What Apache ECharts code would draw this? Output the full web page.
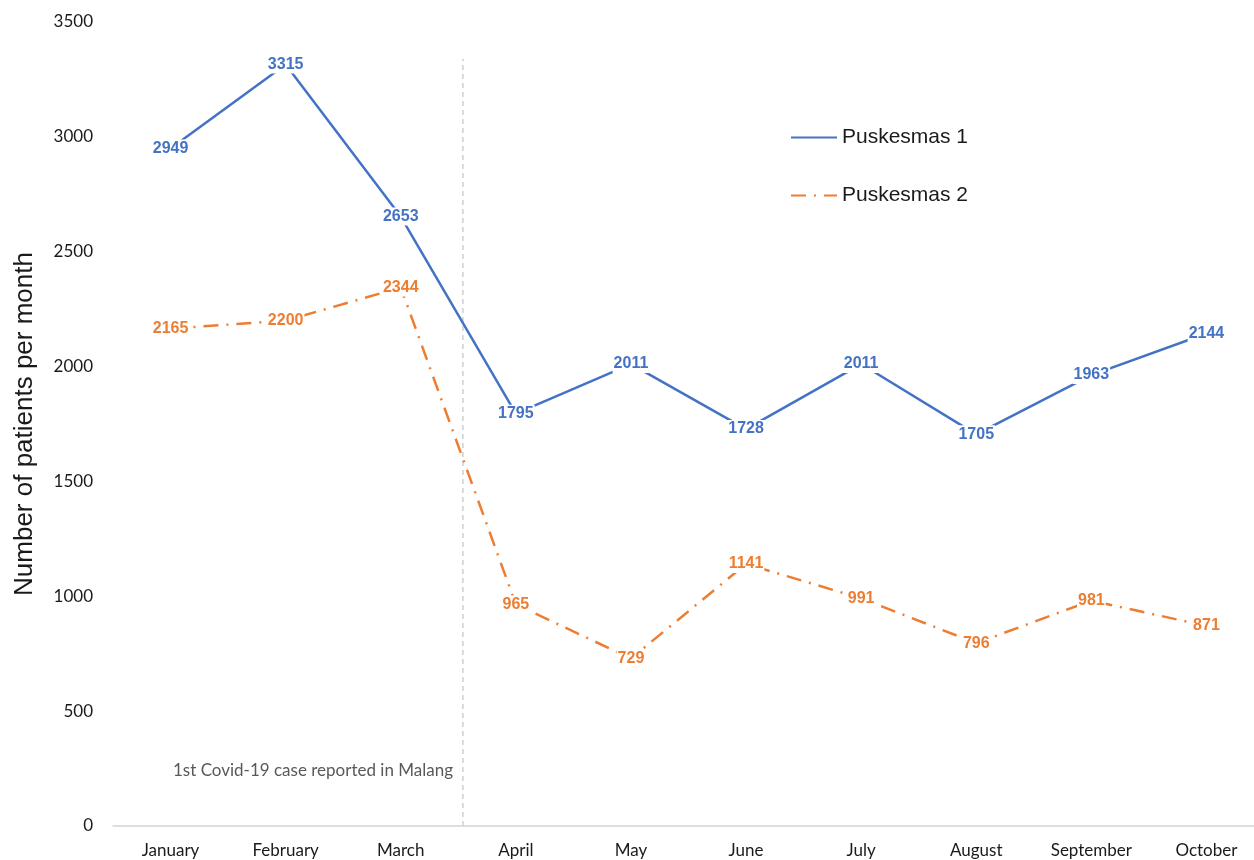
<!DOCTYPE html>
<html>
<head>
<meta charset="utf-8">
<script src="https://cdn.jsdelivr.net/npm/echarts@6/dist/echarts.min.js"></script>
<style>
html,body{margin:0;padding:0;background:#fff;}
#chart{width:1254px;height:860px;}
</style>
</head>
<body>
<div id="chart"></div>
<script>
const months = ['January','February','March','April','May','June','July','August','September','October'];
const puskesmas1 = [2949, 3315, 2653, 1795, 2011, 1728, 2011, 1705, 1963, 2144];
const puskesmas2 = [2165, 2200, 2344, 965, 729, 1141, 991, 796, 981, 871];
const covidMarkerX = 2.54;
const covidMarkerTop = 3340;
const covidNote = '1st Covid-19 case reported in Malang';

const chart = echarts.init(document.getElementById('chart'));
const labelBase = {
  show: true,
  position: 'inside',
  fontFamily: 'Liberation Sans, Arial, sans-serif',
  fontWeight: 'bold',
  fontSize: 16,
  backgroundColor: '#fff',
  padding: [1, 1]
};
chart.setOption({
  animation: false,
  backgroundColor: '#fff',
  grid: { left: 113, top: 22, width: 1151, height: 804, containLabel: false, outerBoundsMode: 'none' },
  legend: {
    orient: 'vertical',
    left: 785,
    top: 122,
    itemWidth: 46,
    itemHeight: 14,
    itemGap: 37,
    itemStyle: { opacity: 0 },
    textStyle: { fontFamily: 'Liberation Sans, Arial, sans-serif', fontSize: 21, color: '#1a1a1a' },
    data: ['Puskesmas 1', 'Puskesmas 2']
  },
  xAxis: [{
    type: 'category',
    data: months,
    boundaryGap: true,
    axisLine: { lineStyle: { color: '#d4d4d4', width: 1.5 } },
    axisTick: { show: false },
    axisLabel: { fontFamily: 'Lato, sans-serif', fontSize: 17, color: '#1a1a1a', margin: 16 }
  }, {
    type: 'value',
    min: -0.5,
    max: 9.5,
    show: false
  }],
  yAxis: {
    type: 'value',
    min: 0,
    max: 3500,
    interval: 500,
    name: 'Number of patients per month',
    nameLocation: 'middle',
    nameGap: 75,
    nameTextStyle: { fontFamily: 'Liberation Sans, Arial, sans-serif', fontSize: 26, color: '#1a1a1a' },
    axisLine: { show: false },
    axisTick: { show: false },
    splitLine: { show: false },
    axisLabel: { fontFamily: 'Lato, sans-serif', fontSize: 17, color: '#1a1a1a', margin: 20, formatter: v => String(v) }
  },
  series: [{
    name: 'covid-marker',
    type: 'line',
    xAxisIndex: 1,
    data: [[covidMarkerX, 0], [covidMarkerX, covidMarkerTop]],
    symbol: 'none',
    silent: true,
    lineStyle: { color: '#cfcfcf', width: 1.5, type: [5, 4] },
    z: 1
  }, {
    name: 'Puskesmas 1',
    type: 'line',
    data: puskesmas1,
    symbol: 'circle',
    symbolSize: 1,
    itemStyle: { color: '#4472C4' },
    lineStyle: { color: '#4472C4', width: 2.5 },
    label: Object.assign({ color: '#4472C4' }, labelBase),
    z: 3
  }, {
    name: 'Puskesmas 2',
    type: 'line',
    data: puskesmas2,
    symbol: 'circle',
    symbolSize: 1,
    itemStyle: { color: '#ED7D31' },
    lineStyle: { color: '#ED7D31', width: 2.5, type: [15, 8, 2, 8] },
    label: Object.assign({ color: '#ED7D31' }, labelBase),
    z: 3
  }],
  graphic: [{
    type: 'text',
    right: 1254 - 453,
    top: 762,
    style: { text: covidNote, fontFamily: 'Lato, sans-serif', fontSize: 17, fill: '#595959' }
  }]
});
</script>
</body>
</html>
